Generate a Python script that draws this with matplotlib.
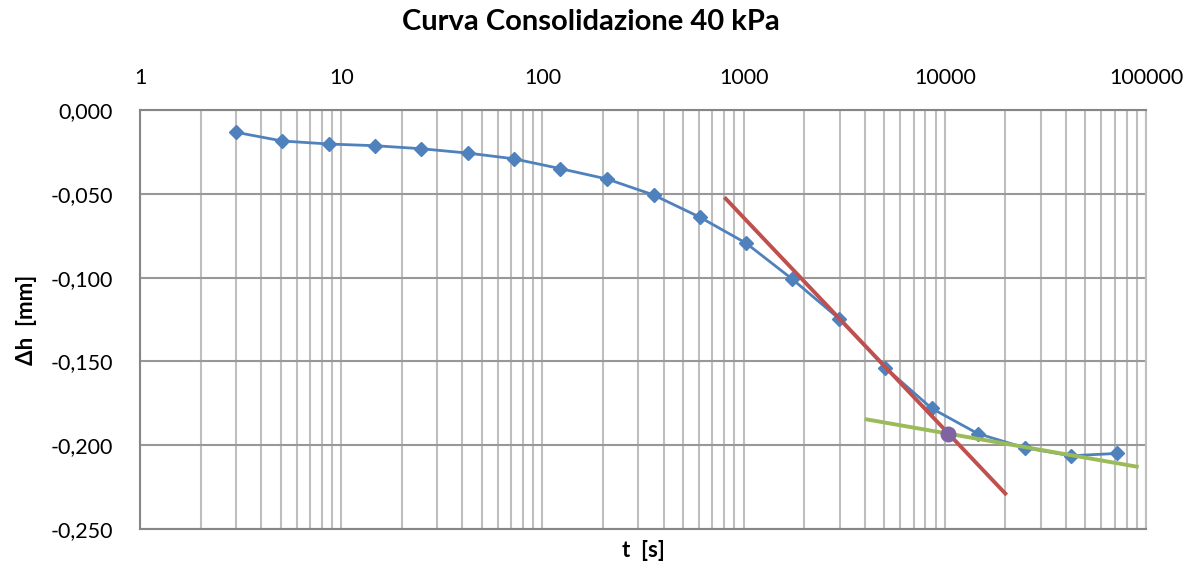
import numpy as np
import matplotlib.pyplot as plt
from matplotlib.ticker import LogLocator, FixedLocator, NullFormatter

plt.rcParams['font.family'] = ['Lato', 'DejaVu Sans']

# consolidation readings
t_s = [3, 5.1, 8.7, 14.7, 25, 42.5, 72, 123, 210, 357, 607, 1030,
       1750, 2980, 5060, 8600, 14600, 24900, 42300, 72000]
dh_mm = [-0.0133, -0.0185, -0.0203, -0.0213, -0.0231, -0.0257, -0.0291,
         -0.0350, -0.0412, -0.0507, -0.0640, -0.0795, -0.1010, -0.1245,
         -0.1537, -0.1780, -0.1931, -0.2015, -0.2063, -0.2049]

# tangent lines (primary consolidation / secondary compression)
red_t = [803, 20300]
red_dh = [-0.0521, -0.2297]
green_t = [4000, 91900]
green_dh = [-0.1844, -0.2130]

# intersection (end of primary consolidation)
t100 = [10400]
dh100 = [-0.1931]

y_ticks = [0.0, -0.05, -0.10, -0.15, -0.20, -0.25]
y_labels = ['0,000', '-0,050', '-0,100', '-0,150', '-0,200', '-0,250']
x_ticks = [1, 10, 100, 1000, 10000, 100000]
x_labels = ['1', '10', '100', '1000', '10000', '100000']

fig = plt.figure(figsize=(12.03, 5.69), dpi=100)
ax = fig.add_axes([140 / 1203, 40 / 569, 1006 / 1203, 419 / 569])

ax.plot(t_s, dh_mm, color='#4F81BD', linewidth=2.0, marker='D',
        markersize=7.5, markerfacecolor='#4F81BD', markeredgecolor='#4F81BD',
        zorder=4)
ax.plot(red_t, red_dh, color='#C0504D', linewidth=2.8, zorder=5,
        solid_capstyle='butt')
ax.plot(green_t, green_dh, color='#9BBB59', linewidth=2.8, zorder=5,
        solid_capstyle='butt')
ax.plot(t100, dh100, linestyle='none', marker='o', markersize=10.5,
        color='#8064A2', zorder=6)

ax.set_xscale('log')
ax.set_xlim(1, 100000)
ax.set_ylim(-0.25, 0.0)

# x axis labels on top, no tick marks
ax.xaxis.tick_top()
ax.xaxis.set_major_locator(FixedLocator(x_ticks))
ax.set_xticklabels(x_labels)
ax.xaxis.set_minor_locator(LogLocator(base=10, subs=np.arange(2, 10)))
ax.xaxis.set_minor_formatter(NullFormatter())
ax.tick_params(axis='x', which='both', length=0, pad=16, labelsize=15.5)
ax.set_yticks(y_ticks)
ax.set_yticklabels(y_labels)
ax.tick_params(axis='y', length=0, pad=19.5, labelsize=15.5)

ax.grid(True, axis='x', which='both', color='#BEBEBE', linewidth=1.5)
ax.grid(True, axis='y', which='major', color='#989898', linewidth=1.5)
ax.set_axisbelow(True)

for side in ['left', 'bottom', 'top']:
    ax.spines[side].set_color('#868686')
    ax.spines[side].set_linewidth(1.5)
ax.spines['right'].set_color('#BEBEBE')
ax.spines['right'].set_linewidth(1.5)

ax.set_xlabel('t  [s]', fontsize=16, fontweight='bold')
ax.xaxis.set_label_position('bottom')
ax.xaxis.labelpad = 8
ax.set_ylabel('Δh  [mm]', fontsize=16, fontweight='bold', labelpad=10)

fig.text(591 / 1203, 1 - 22 / 569, 'Curva Consolidazione 40 kPa',
         ha='center', va='center', fontsize=21, fontweight='bold')

fig.savefig('out.png', dpi=100)
